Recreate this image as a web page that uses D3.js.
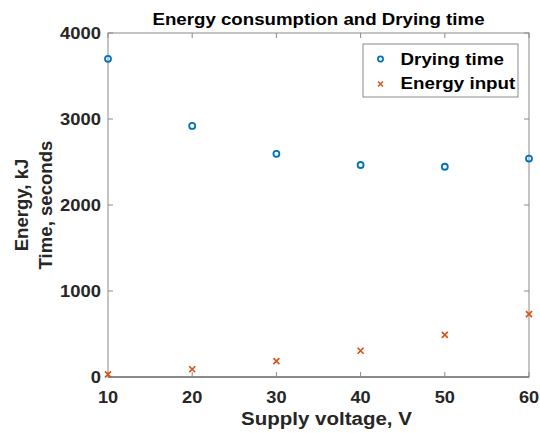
<!DOCTYPE html>
<html>
<head>
<meta charset="utf-8">
<script src="https://cdn.jsdelivr.net/npm/d3@7"></script>
<style>
  body { margin: 0; background: #fff; }
  svg { font-family: "Liberation Sans", Arial, sans-serif; font-weight: bold; }
</style>
</head>
<body>
<div id="chart"></div>
<script>
const voltage = [10, 20, 30, 40, 50, 60];
const dryingTime = [3700, 2920, 2595, 2465, 2445, 2540];
const energyInput = [30, 90, 185, 305, 490, 730];
const xTicks = [10, 20, 30, 40, 50, 60];
const yTicks = [0, 1000, 2000, 3000, 4000];

const width = 540;
const height = 433;
const margin = { top: 33, right: 11, bottom: 56, left: 108 };
const textColor = '#262626';
const axisColor = '#8a8a8a';
const vScale = 0.9; // the reference is a little squashed vertically

const svg = d3.select('#chart')
    .append('svg')
    .attr('width', width)
    .attr('height', height);

const x = d3.scaleLinear()
    .domain([10, 60])
    .range([margin.left, width - margin.right]);

const y = d3.scaleLinear()
    .domain([0, 4000])
    .range([height - margin.bottom, margin.top]);

const tickLen = 5;

// horizontal text helper
function hText(px, py, str, size, anchor, fill) {
    return svg.append('text')
        .attr('transform', `translate(${px},${py}) scale(1,${vScale})`)
        .attr('text-anchor', anchor)
        .style('font-size', size + 'px')
        .attr('fill', fill)
        .text(str);
}

// box
svg.append('rect')
    .attr('x', x(10))
    .attr('y', y(4000))
    .attr('width', x(60) - x(10))
    .attr('height', y(0) - y(4000))
    .attr('fill', 'none')
    .attr('stroke', axisColor)
    .attr('stroke-width', 1);
svg.append('line')
    .attr('x1', x(10)).attr('x2', x(60))
    .attr('y1', y(0)).attr('y2', y(0))
    .attr('stroke', '#505050')
    .attr('stroke-width', 1.2);

// inward ticks on all four sides
xTicks.forEach(t => {
    svg.append('line')
        .attr('x1', x(t)).attr('x2', x(t))
        .attr('y1', y(0)).attr('y2', y(0) - tickLen)
        .attr('stroke', axisColor);
    svg.append('line')
        .attr('x1', x(t)).attr('x2', x(t))
        .attr('y1', y(4000)).attr('y2', y(4000) + tickLen)
        .attr('stroke', axisColor);
});
yTicks.forEach(t => {
    svg.append('line')
        .attr('x1', x(10)).attr('x2', x(10) + tickLen)
        .attr('y1', y(t)).attr('y2', y(t))
        .attr('stroke', axisColor);
    svg.append('line')
        .attr('x1', x(60)).attr('x2', x(60) - tickLen)
        .attr('y1', y(t)).attr('y2', y(t))
        .attr('stroke', axisColor);
});

// tick labels
xTicks.forEach(t => hText(x(t), y(0) + 26, t, 18.2, 'middle', textColor));
yTicks.forEach(t => hText(x(10) - 7, y(t) + 6, t, 18.4, 'end', textColor));

// data
svg.selectAll('.dry')
    .data(voltage)
    .enter()
    .append('circle')
    .attr('cx', d => x(d))
    .attr('cy', (d, i) => y(dryingTime[i]))
    .attr('r', 3)
    .attr('fill', 'none')
    .attr('stroke', '#0072BD')
    .attr('stroke-width', 1.8);

const cross = 3;
svg.selectAll('.energy')
    .data(voltage)
    .enter()
    .append('path')
    .attr('d', (d, i) => {
        const cx = x(d), cy = y(energyInput[i]);
        return `M${cx - cross},${cy - cross}L${cx + cross},${cy + cross}M${cx - cross},${cy + cross}L${cx + cross},${cy - cross}`;
    })
    .attr('stroke', '#D95319')
    .attr('stroke-width', 1.7);

// title and axis labels
hText((x(10) + x(60)) / 2, 25, 'Energy consumption and Drying time', 18.7, 'middle', '#000');
hText((x(10) + x(60)) / 2 + 8, 425, 'Supply voltage, V', 20.5, 'middle', textColor);

const yLabel = svg.append('text')
    .attr('transform', `translate(0, ${(y(0) + y(4000)) / 2}) rotate(-90)`)
    .attr('text-anchor', 'middle')
    .style('font-size', '18.6px')
    .attr('fill', textColor);
yLabel.append('tspan').attr('x', 0).attr('y', 28).text('Energy, kJ');
yLabel.append('tspan').attr('x', 0).attr('y', 52).text('Time, seconds');

// legend
svg.append('rect')
    .attr('x', 363).attr('y', 44)
    .attr('width', 155).attr('height', 53)
    .attr('fill', '#fff')
    .attr('stroke', axisColor);
svg.append('circle')
    .attr('cx', 380.5).attr('cy', 59)
    .attr('r', 2.6)
    .attr('fill', 'none')
    .attr('stroke', '#0072BD')
    .attr('stroke-width', 1.7);
svg.append('path')
    .attr('d', `M${380.5 - 2.5},${84 - 2.5}L${380.5 + 2.5},${84 + 2.5}M${380.5 - 2.5},${84 + 2.5}L${380.5 + 2.5},${84 - 2.5}`)
    .attr('stroke', '#D95319')
    .attr('stroke-width', 1.5);
hText(400.5, 64.5, 'Drying time', 18.8, 'start', '#000');
hText(400.5, 88.5, 'Energy input', 18.8, 'start', '#000');
</script>
</body>
</html>
